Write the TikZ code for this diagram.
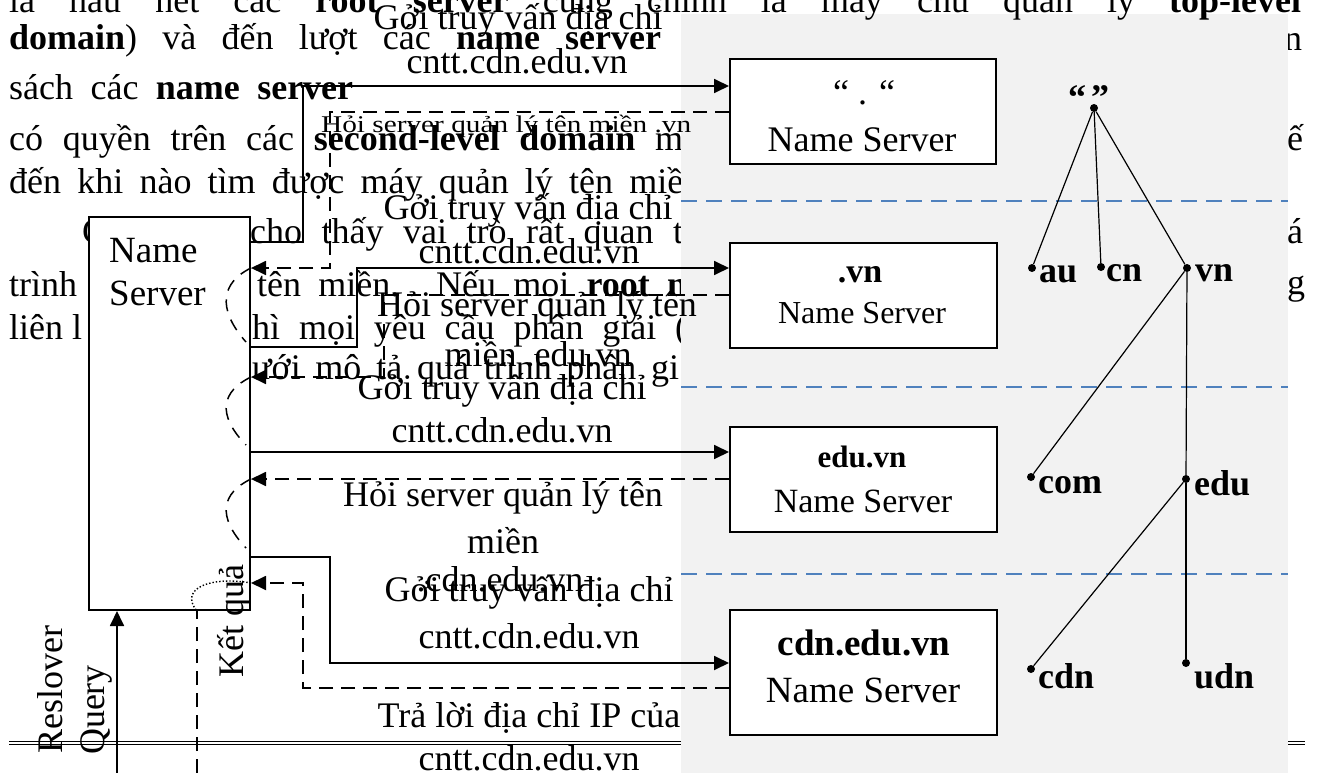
\documentclass[tikz,border=0pt]{standalone}
\usepackage{fontspec}
\usepackage{graphicx}
\setmainfont{Liberation Serif}
\usetikzlibrary{arrows.meta}
\newcommand{\myfs}[1]{\fontsize{#1pt}{#1pt}\selectfont}
\definecolor{sepblue}{RGB}{79,129,189}
\definecolor{panelgray}{RGB}{242,242,242}
\begin{document}
\begin{tikzpicture}[x=1pt,y=-1pt,
  body/.style={anchor=base west, inner sep=0pt, font=\myfs{36}},
  lbl/.style={anchor=base, inner sep=0pt, font=\myfs{36}},
  conn/.style={line width=1.8pt},
  dconn/.style={line width=1.8pt, dash pattern=on 14pt off 8pt},
  loopd/.style={line width=1.5pt, dash pattern=on 12pt off 9pt},
  tip/.style={-{Triangle[length=15pt,width=14pt]}},
  nsbox/.style={draw, line width=2pt, fill=white, inner sep=0pt},
  sepline/.style={draw=sepblue, line width=2.2pt, dash pattern=on 16pt off 9pt},
  leaf/.style={circle, fill=black, inner sep=0pt, minimum size=8pt},
  tl/.style={anchor=base west, inner sep=0pt, font=\myfs{36}\bfseries},
  treeline/.style={line width=1.2pt}
]
\useasboundingbox (0,0) rectangle (1317,773);
\clip (0,0) rectangle (1317,773);
\fill[white] (0,0) rectangle (1317,773);

% ---------- background paragraph text ----------
\node[body] (b2) at (9,50) {\makebox[652pt][s]{\textbf{domain}) và đến lượt các \textbf{name server}}};
\node[body] (b2r) at (1284,51) {n};
\node[body] (b3) at (9,100) {\makebox[344pt][s]{sách các \textbf{name server}}};
\node[body] (b4) at (9,150) {\makebox[674pt][s]{có quyền trên các \textbf{second-level domain} m}};
\node[body] (b4r) at (1287,150) {ế};
\node[body] (b5) at (9,193) {\makebox[674pt][s]{đến khi nào tìm được máy quản lý tên miề}n};
\node[body] (b6a) at (82,243) {C};
\node[body] (b6) at (250,243) {\makebox[433pt][s]{cho thấy vai trò rất quan t}};
\node[body] (b6r) at (1287,243) {á};
\node[body] (b7a) at (9,296) {trình};
\node[body] (b7) at (257,296) {\makebox[430pt][s]{tên miền. Nếu mọi \textbf{root n}}};
\node[body] (b7r) at (1287,294) {g};
\node[body] (b8a) at (9,339) {liên l};
\node[body] (b8) at (252,339) {\makebox[435pt][s]{hì mọi yêu cầu phân giải (}};
\node[body] (b9) at (252,379) {\makebox[427pt][s]{ưới mô tả quá trình phân gi}};

% double rule
\draw[line width=0.9pt] (9,741) -- (1305,741);
\draw[line width=0.9pt] (9,744.5) -- (1305,744.5);

% ---------- gray panel ----------
\fill[panelgray] (681,14) rectangle (1288,773);

\node[body] (b1) at (9,13) {\makebox[1292pt][s]{là hầu hết các \textbf{root server} cũng chính là máy chủ quản lý \textbf{top-level}}};

% level separators
\draw[sepline] (681,201) -- (1288,201);
\draw[sepline] (681,387) -- (1288,387);
\draw[sepline] (681,574) -- (1288,574);

% ---------- domain tree ----------
\node[leaf] (t0) at (1094,108) {};
\node[leaf] (tau) at (1032,268) {};
\node[leaf] (tcn) at (1101,267) {};
\node[leaf] (tvn) at (1187,268) {};
\node[leaf] (tcom) at (1031,477) {};
\node[leaf] (tedu) at (1186,479) {};
\node[leaf] (tcdn) at (1031,669) {};
\node[leaf] (tudn) at (1186,663) {};
\draw[treeline] (t0) -- (tau);
\draw[treeline] (t0) -- (tcn);
\draw[treeline] (t0) -- (tvn);
\draw[treeline] (tvn) -- (tcom);
\draw[treeline] (tvn) -- (tedu);
\draw[treeline] (tedu) -- (tudn);
\draw[treeline] (tedu) -- (tcdn);
\node[tl] (l0) at (1068,110) {“\kern5pt”};
\node[tl] (lau) at (1039,282) {au};
\node[tl] (lcn) at (1106,281) {cn};
\node[tl] (lvn) at (1195,281) {vn};
\node[tl] (lcom) at (1038,493) {com};
\node[tl] (ledu) at (1194,495) {edu};
\node[tl] (lcdn) at (1038,688) {cdn};
\node[tl] (ludn) at (1194,688) {udn};

% ---------- name server boxes ----------
\node[nsbox, minimum width=266pt, minimum height=105pt] (root) at (863,111.5) {};
\node[nsbox, minimum width=267pt, minimum height=105pt] (vn) at (863.5,295.5) {};
\node[nsbox, minimum width=267pt, minimum height=105pt] (edu) at (863.5,479.5) {};
\node[nsbox, minimum width=267pt, minimum height=125pt] (cdn) at (863.5,672.5) {};
\node[nsbox, minimum width=161pt, minimum height=393pt] (ns) at (169.5,413.5) {};

\node[lbl] (rt1) at (864,105) {“ . “};
\node[lbl] (rt2) at (862,152) {Name Server};
\node[lbl, font=\myfs{34}\bfseries] (vt1) at (860,282) {.vn};
\node[lbl, font=\myfs{32}] (vt2) at (862,323) {Name Server};
\node[lbl, font=\myfs{31}\bfseries] (et1) at (862,467) {edu.vn};
\node[lbl, font=\myfs{34}] (et2) at (863,512) {Name Server};
\node[lbl, font=\myfs{37}\bfseries] (ct1) at (864,655) {cdn.edu.vn};
\node[lbl, font=\myfs{37}] (ct2) at (863,702) {Name Server};
\node[body, font=\myfs{37}] (nst1) at (109,262) {Name};
\node[body, font=\myfs{37}] (nst2) at (109,305) {Server};

% ---------- connectors ----------
\draw[conn, tip] (ns.east |- 0,242) -- (303,242) -- (303,86) -- (root.west |- 0,86);
\draw[dconn, tip] (root.west |- 0,112) -- (330,112) -- (330,268) -- (ns.east |- 0,268);
\draw[conn, tip] (ns.east |- 0,347) -- (357,347) -- (357,268) -- (vn.west |- 0,268);
\draw[dconn, tip] (vn.west |- 0,295) -- (384,295) -- (384,377) -- (ns.east |- 0,377);
\draw[conn, tip] (ns.east |- 0,452) -- (edu.west |- 0,452);
\draw[dconn, tip] (edu.west |- 0,479) -- (ns.east |- 0,479);
\draw[conn, tip] (ns.east |- 0,557) -- (330,557) -- (330,663) -- (cdn.west |- 0,663);
\draw[dconn, tip] (cdn.west |- 0,688) -- (303,688) -- (303,583) -- (ns.east |- 0,583);

\draw[loopd] (ns.east |- 0,268) .. controls (222,282) and (216,308) .. (246,342);
\draw[loopd] (ns.east |- 0,377) .. controls (222,391) and (216,414) .. (246,445);
\draw[loopd] (ns.east |- 0,479) .. controls (222,493) and (216,516) .. (246,548);

\coordinate (qb) at (117,773);
\coordinate (rb) at (197,773);
\draw[conn, tip] (qb) -- (ns.south -| qb);
\draw[dconn] (rb) -- (ns.south -| rb);
\draw[line width=1.4pt, dotted] (ns.east |- 0,583) .. controls (212,576) and (178,588) .. (ns.south -| rb);

% ---------- connector labels ----------
\node[lbl] (la1) at (518,30) {Gởi truy vấn địa chỉ};
\node[lbl] (la2) at (517,74) {cntt.cdn.edu.vn};
\node[anchor=base west, inner sep=0pt, font=\myfs{24}] (la3) at (321,133) {\scalebox{1.22}[1]{Hỏi server quản lý tên miền .vn}};
\node[lbl] (lb1) at (528,219) {Gởi truy vấn địa chỉ};
\node[lbl] (lb2) at (529,263) {cntt.cdn.edu.vn};
\node[lbl] (lb3) at (537,316) {Hỏi server quản lý tên};
\node[lbl] (lb4) at (538,366) {miền .edu.vn};
\node[lbl] (lc1) at (502,399) {Gởi truy vấn địa chỉ};
\node[lbl] (lc2) at (502,442) {cntt.cdn.edu.vn};
\node[lbl] (lc3) at (503,506) {Hỏi server quản lý tên};
\node[lbl] (lc4) at (503,553) {miền};
\node[lbl] (lc5) at (500,591) {.cdn.edu.vn};
\node[lbl] (ld1) at (529,601) {Gởi truy vấn địa chỉ};
\node[lbl] (ld2) at (529,648) {cntt.cdn.edu.vn};
\node[lbl] (le1) at (529,727) {Trả lời địa chỉ IP của};
\node[lbl] (le2) at (529,770) {cntt.cdn.edu.vn};

\node[lbl, rotate=90] (rq1) at (62,690) {Reslover};
\node[lbl, rotate=90] (rq2) at (104,710) {Query};
\node[lbl, rotate=90] (kq) at (243,621) {Kết quả};
\end{tikzpicture}
\end{document}
